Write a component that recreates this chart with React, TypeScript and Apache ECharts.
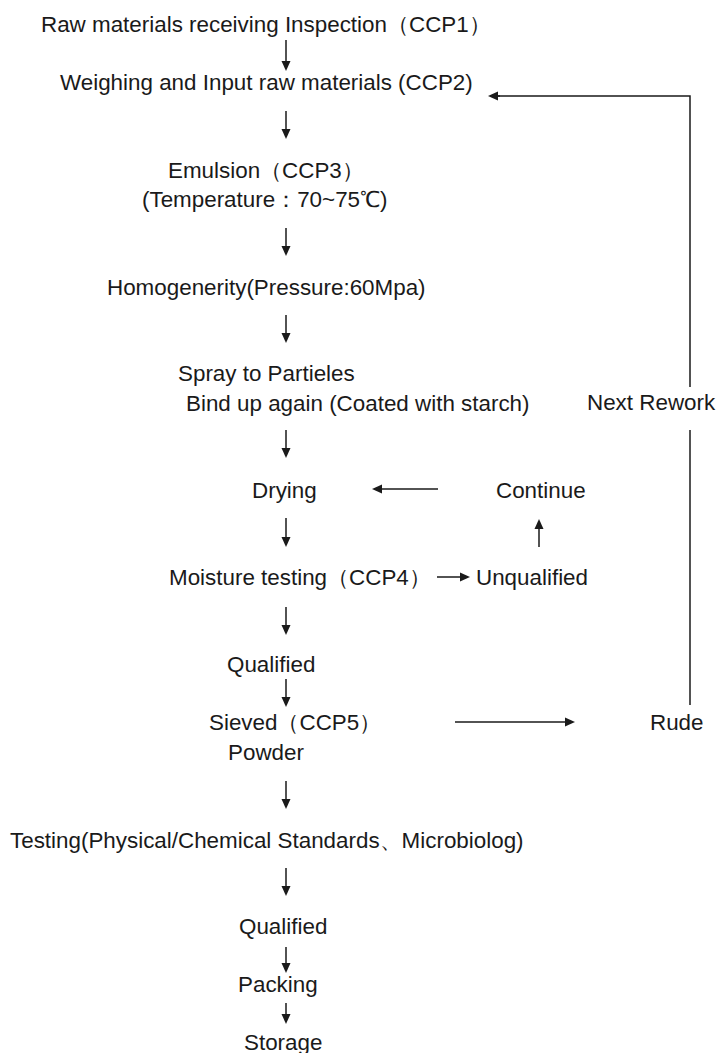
import React, { useEffect, useRef } from "react";
import * as echarts from "echarts";

// Flowchart step labels (text content)
const stepLabels: string[] = [
  "Raw materials receiving Inspection（CCP1）",
  "Weighing and Input raw materials (CCP2)",
  "Emulsion（CCP3）",
  "(Temperature：70~75℃)",
  "Homogenerity(Pressure:60Mpa)",
  "Spray to Partieles",
  "Bind up again (Coated with starch)",
  "Drying",
  "Moisture testing（CCP4）",
  "Qualified",
  "Sieved（CCP5）",
  "Powder",
  "Testing(Physical/Chemical Standards、Microbiolog)",
  "Qualified",
  "Packing",
  "Storage",
];
const sideLabels: string[] = ["Next Rework", "Continue", "Unqualified", "Rude"];

// Layout (left x, center y) for each label
const stepPos: [number, number][] = [
  [41, 24], [60, 82], [168, 170], [142, 199], [107, 287], [178, 373], [186, 403],
  [252, 490], [169, 577], [227, 664], [209, 722], [228, 752], [10, 840],
  [239, 926], [238, 984], [244, 1042],
];
const sidePos: [number, number][] = [[587, 402], [496, 490], [476, 577], [650, 722]];

// Arrows [x1, y1, x2, y2], head at end
const arrows: [number, number, number, number][] = [
  [286, 40, 286, 71], [286, 111, 286, 139], [286, 228, 286, 256], [286, 315, 286, 343],
  [286, 430, 286, 458], [286, 518, 286, 547], [286, 607, 286, 635], [286, 679, 286, 707],
  [286, 781, 286, 809], [286, 868, 286, 896], [286, 947, 286, 973], [286, 1003, 286, 1024],
  [438, 489, 372, 489], [539, 547, 539, 519], [437, 577, 470, 577], [455, 722, 575, 722],
];
// Plain line segments (loop back)
const loopLines: [number, number][][] = [
  [[690, 705], [690, 430]],
  [[690, 387], [690, 96], [495, 96]],
];
const loopHead: [number, number, number, number] = [500, 96, 488, 96];

const FONT = "'Liberation Sans', Arial, sans-serif";
const FS = 22.4;
const COLOR = "#1a1a1a";

function arrowEls(a: [number, number, number, number]) {
  const [x1, y1, x2, y2] = a;
  const dx = x2 - x1, dy = y2 - y1;
  const len = Math.hypot(dx, dy);
  const ux = dx / len, uy = dy / len;
  const hl = 10, hw = 4.5;
  const bx = x2 - ux * hl, by = y2 - uy * hl;
  return [
    { type: "line", shape: { x1, y1, x2: bx + ux, y2: by + uy }, style: { stroke: COLOR, lineWidth: 1.5 } },
    {
      type: "polygon",
      shape: { points: [[x2, y2], [bx - uy * hw, by + ux * hw], [bx + uy * hw, by - ux * hw]] },
      style: { fill: COLOR },
    },
  ];
}

export default function App() {
  const ref = useRef<HTMLDivElement>(null);
  useEffect(() => {
    if (!ref.current) return;
    const chart = echarts.init(ref.current, null, { renderer: "svg" });
    const els: any[] = [];
    stepLabels.forEach((t, i) => {
      els.push({
        type: "text", x: stepPos[i][0], y: stepPos[i][1],
        style: { text: t, font: `${FS}px ${FONT}`, fill: COLOR, textAlign: "left", textVerticalAlign: "middle" },
      });
    });
    sideLabels.forEach((t, i) => {
      els.push({
        type: "text", x: sidePos[i][0], y: sidePos[i][1],
        style: { text: t, font: `${FS}px ${FONT}`, fill: COLOR, textAlign: "left", textVerticalAlign: "middle" },
      });
    });
    arrows.forEach((a) => els.push(...arrowEls(a)));
    loopLines.forEach((pts) =>
      els.push({ type: "polyline", shape: { points: pts }, style: { stroke: COLOR, lineWidth: 1.5, fill: "none" } })
    );
    els.push(...arrowEls(loopHead));
    chart.setOption({ animation: false, backgroundColor: "#fff", graphic: { elements: els } });
    return () => chart.dispose();
  }, []);
  return <div ref={ref} style={{ position: "absolute", left: 0, top: 0, width: 717, height: 1053 }} />;
}
